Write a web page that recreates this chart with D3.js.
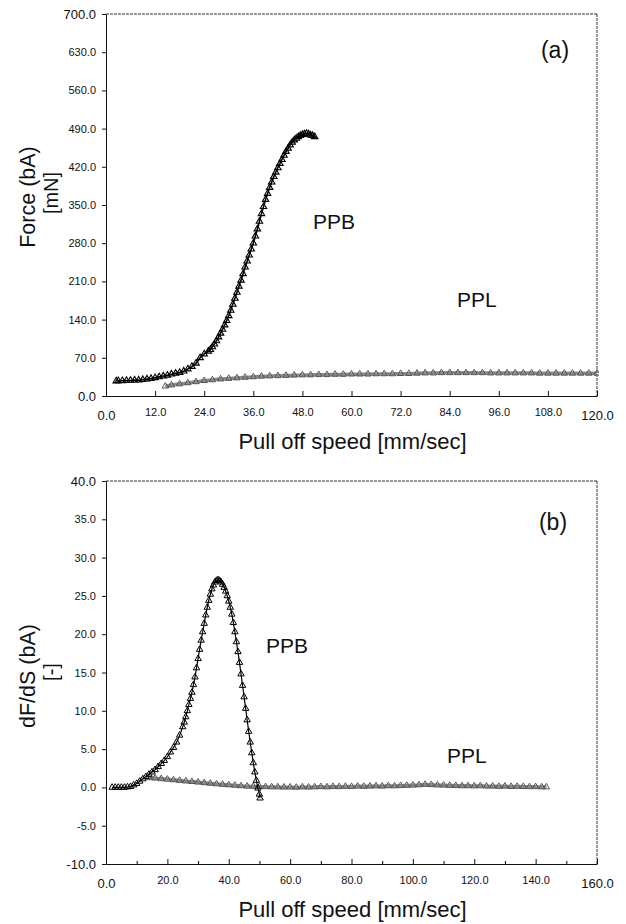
<!DOCTYPE html>
<html>
<head>
<meta charset="utf-8">
<script src="https://cdn.jsdelivr.net/npm/d3@7"></script>
<style>
  html, body { margin: 0; padding: 0; background: #fff; }
  svg { display: block; font-family: "Liberation Sans", Arial, sans-serif; }
</style>
</head>
<body>
<svg id="chart" width="626" height="924"></svg>
<script>
// ---------- DATA ----------
// Panel (a): Force vs pull off speed
const ppbForceX = [2.5,3,4,5,6,7,8,9,10,11,12,13,14,15,16,17,18,19,20,21,22,23,24,25,25.5,26,26.5,27,27.5,28,28.5,29,29.5,30,30.5,31,31.5,32,32.5,33,33.5,34,34.5,35,35.5,36,36.5,37,37.5,38,38.5,39,39.5,40,40.5,41,41.5,42,42.5,43,43.5,44,44.5,45,45.5,46,46.5,47,47.5,48,48.5,49,49.5,50,50.5,51];
const ppbForceY = [27.5,28,28,28.5,28.5,29,29,30,31,32,33.5,35,36.5,38,40,41.5,43,45.5,49.5,54,60,70,77,82,85,90,95,101,108,115,122,130,138,147,157,168,179,190,201,212,224,236,247,258,269,280,293,306,320,334,347,360,371,382,392,402,410,418,426,433,441,448,454,460,465,469,472,475,477,479,480,481,480,478,477,475];

const pplForceX = [14.5,16,18,20,22,24,26,28,30,32,34,36,38,40,42,44,46,48,50,52,54,56,58,60,62,64,66,68,70,72,74,76,78,80,82,84,86,88,90,92,94,96,98,100,102,104,106,108,110,112,114,116,118,120];
const pplForceY = [18,20,22,24,26,28,29.5,31,32,33,34,35,36,36.5,37,37.5,38,38.5,38.5,39,39,39.5,39.5,40,40,40,40.5,40.5,40.5,41,41,41.5,42,42,42.5,42.5,42.5,42.5,42.5,42.5,42,42,42,42,42,42,41.5,41.5,41.5,41.5,41.5,41.5,41.5,41.5];

// Panel (b): dF/dS vs pull off speed
const ppbSlopeX = [2,3,4,5,6,7,8,9,10,11,12,13,14,15,16,17,18,19,20,21,22,23,24,25,25.5,26,26.5,27,27.5,28,28.5,29,29.5,30,30.5,31,31.5,32,32.5,33,33.5,34,34.5,35,35.5,36,36.5,37,37.5,38,38.5,39,39.5,40,40.5,41,41.5,42,42.5,43,43.5,44,44.5,45,45.5,46,46.5,47,47.5,48,48.5,49,49.5,50,50.2];
const ppbSlopeY = [0,0,0,0,0,0.05,0.1,0.3,0.5,0.8,1.1,1.4,1.7,2.0,2.3,2.7,3.1,3.5,4.0,4.6,5.2,5.9,6.8,7.9,8.5,9.2,10.0,10.8,11.6,12.4,13.4,14.4,15.6,16.8,18.0,19.2,20.3,21.4,22.5,23.5,24.4,25.2,25.9,26.4,26.8,27.0,27.1,27.0,26.8,26.5,26.1,25.6,25.0,24.3,23.5,22.6,21.5,20.3,19.0,17.7,16.3,14.8,13.3,11.8,10.3,8.8,7.3,5.9,4.5,3.2,2.0,0.9,-0.1,-0.9,-1.4];

const pplSlopeX = [14,16,18,20,22,24,26,28,30,32,34,36,38,40,42,44,46,48,50,52,54,56,58,60,62,64,66,68,70,72,74,76,78,80,82,84,86,88,90,92,94,96,98,100,102,104,106,108,110,112,114,116,118,120,122,124,126,128,130,132,134,136,138,140,142,143.5];
const pplSlopeY = [1.25,1.2,1.12,1.05,0.98,0.9,0.82,0.75,0.68,0.6,0.52,0.45,0.38,0.32,0.26,0.2,0.15,0.12,0.1,0.08,0.05,0.05,0.02,0.03,0.0,0.05,0.02,0.05,0.08,0.05,0.1,0.08,0.12,0.1,0.15,0.12,0.15,0.18,0.15,0.2,0.18,0.22,0.25,0.28,0.32,0.38,0.35,0.3,0.28,0.25,0.22,0.2,0.2,0.18,0.2,0.15,0.15,0.12,0.15,0.1,0.12,0.1,0.08,0.08,0.05,0.05];

// Tick values
const forceXTicks = [0,12,24,36,48,60,72,84,96,108,120];
const forceYTicks = [0,70,140,210,280,350,420,490,560,630,700];
const slopeXTicks = [0,20,40,60,80,100,120,140,160];
const slopeXMinor = [10,30,50,70,90,110,130,150];
const slopeYTicks = [-10,-5,0,5,10,15,20,25,30,35,40];

// ---------- DRAW ----------
const svg = d3.select("#chart");
const fmt = v => v.toFixed(1);

function panel(opt) {
  const {x0, x1, y0, y1, xDom, yDom, xTicks, xMinor, yTicks, series, tag, tagPos, labels, yTitle, yUnit, yTitleCenter, xTitleY} = opt;
  const x = d3.scaleLinear().domain(xDom).range([x0, x1]);
  const y = d3.scaleLinear().domain(yDom).range([y1, y0]);
  const g = svg.append("g");

  // frame top/right (scanned dashed look)
  g.append("line").attr("x1", x0).attr("x2", x1).attr("y1", y0).attr("y2", y0)
    .attr("stroke", "#333").attr("stroke-width", 1).attr("stroke-dasharray", "3,1");
  g.append("line").attr("x1", x1).attr("x2", x1).attr("y1", y0).attr("y2", y1)
    .attr("stroke", "#333").attr("stroke-width", 1).attr("stroke-dasharray", "3,1");

  // x axis
  const xa = g.append("g").attr("transform", `translate(0,${y1})`)
    .call(d3.axisBottom(x).tickValues(xTicks).tickFormat(fmt).tickSize(-5).tickSizeOuter(0).tickPadding(12));
  if (xMinor) {
    g.append("g").attr("transform", `translate(0,${y1})`)
      .call(d3.axisBottom(x).tickValues(xMinor).tickFormat("").tickSize(-3).tickSizeOuter(0))
      .call(s => s.select(".domain").remove());
  }
  // y axis
  const ya = g.append("g").attr("transform", `translate(${x0},0)`)
    .call(d3.axisLeft(y).tickValues(yTicks).tickFormat(fmt).tickSize(4).tickSizeOuter(0).tickPadding(6));

  [xa, ya].forEach(a => {
    a.selectAll(".domain").attr("stroke", "#111");
    a.selectAll(".tick line").attr("stroke", "#111");
    a.selectAll(".tick text").attr("fill", "#111").attr("font-size", 11)
      .attr("font-family", "'Liberation Sans', Arial, sans-serif");
  });
  const xt = xa.selectAll(".tick text").nodes();
  [xt[0], xt[xt.length - 1]].forEach(n => d3.select(n).attr("font-size", 13).attr("y", 15));
  const yt = ya.selectAll(".tick text").nodes();
  [yt[0], yt[yt.length - 1]].forEach(n => d3.select(n).attr("font-size", 13));

  // series
  const clipId = "clip" + tag.replace(/\W/g, "");
  svg.append("clipPath").attr("id", clipId).append("rect")
    .attr("x", x0).attr("y", y0 - 2).attr("width", x1 - x0 + 2).attr("height", y1 - y0 + 4);
  const sg = g.append("g").attr("clip-path", `url(#${clipId})`);
  series.forEach(s => {
    const tri = d3.symbol().type(d3.symbolTriangle).size(s.size);
    const pts = s.xs.map((v, i) => [v, s.ys[i]]);
    sg.append("path").datum(pts)
      .attr("fill", "none").attr("stroke", s.lineColor).attr("stroke-width", s.lineWidth)
      .attr("stroke-linejoin", "round")
      .attr("d", d3.line().x(d => x(d[0])).y(d => y(d[1])).curve(d3.curveMonotoneX));
    sg.selectAll(null).data(pts).enter().append("path")
      .attr("d", tri)
      .attr("transform", d => `translate(${x(d[0])},${y(d[1])})`)
      .attr("fill", "none").attr("stroke", s.color).attr("stroke-width", s.stroke);
  });

  g.append("text").attr("x", tagPos[0]).attr("y", tagPos[1]).attr("text-anchor", "middle")
    .attr("font-size", 23).attr("fill", "#111").text(tag);
  labels.forEach(l => {
    g.append("text").attr("x", l[1]).attr("y", l[2]).attr("font-size", 21).attr("fill", "#111").text(l[0]);
  });

  g.append("text").attr("x", (x0 + x1) / 2 + 1).attr("y", xTitleY).attr("text-anchor", "middle")
    .attr("font-size", 22).attr("fill", "#111").text("Pull off speed [mm/sec]");
  g.append("text").attr("transform", `translate(35,${yTitleCenter}) rotate(-90)`).attr("text-anchor", "middle")
    .attr("font-size", 21.5).attr("fill", "#111").text(yTitle);
  g.append("text").attr("transform", `translate(58,${yTitleCenter - 4}) rotate(-90)`).attr("text-anchor", "middle")
    .attr("font-size", 20).attr("fill", "#111").text(yUnit);
}

panel({
  x0: 106, x1: 597, y0: 14, y1: 396,
  xDom: [0, 120], yDom: [0, 700],
  xTicks: forceXTicks, xMinor: null, yTicks: forceYTicks,
  series: [
    {xs: pplForceX, ys: pplForceY, color: "#555", lineColor: "#8a8a8a", lineWidth: 3.5, size: 18, stroke: 1},
    {xs: ppbForceX, ys: ppbForceY, color: "#000", lineColor: "#000", lineWidth: 1.6, size: 18, stroke: 1.1}
  ],
  tag: "(a)", tagPos: [555, 58],
  labels: [["PPB", 313, 229], ["PPL", 457, 307]],
  yTitle: "Force (bA)", yUnit: "[mN]", yTitleCenter: 197, xTitleY: 449
});

panel({
  x0: 106, x1: 597, y0: 481, y1: 864,
  xDom: [0, 160], yDom: [-10, 40],
  xTicks: slopeXTicks, xMinor: slopeXMinor, yTicks: slopeYTicks,
  series: [
    {xs: pplSlopeX, ys: pplSlopeY, color: "#555", lineColor: "#8a8a8a", lineWidth: 3.5, size: 18, stroke: 1},
    {xs: ppbSlopeX, ys: ppbSlopeY, color: "#000", lineColor: "#000", lineWidth: 1.2, size: 18, stroke: 1}
  ],
  tag: "(b)", tagPos: [553, 530],
  labels: [["PPB", 266, 653], ["PPL", 447, 763]],
  yTitle: "dF/dS (bA)", yUnit: "[-]", yTitleCenter: 676, xTitleY: 917
});
</script>
</body>
</html>
